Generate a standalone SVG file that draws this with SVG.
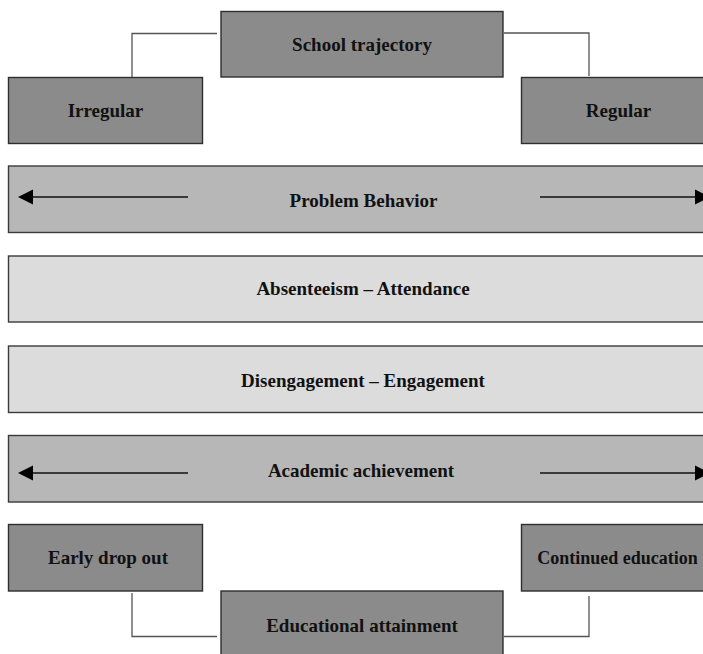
<svg xmlns="http://www.w3.org/2000/svg" width="703" height="654" viewBox="0 0 703 654">
<defs>
<style>
.dark{fill:#8b8b8b;stroke:#2e2e2e;stroke-width:1.4}
.mid{fill:#b7b7b7;stroke:#3a3a3a;stroke-width:1.4}
.light{fill:#dcdcdc;stroke:#3a3a3a;stroke-width:1.4}
.lbl{font-family:"Liberation Serif","Times New Roman",serif;font-weight:bold;font-size:19px;fill:#111;text-anchor:middle}
.conn{fill:none;stroke:#555;stroke-width:1.3}
.arr{stroke:#111;stroke-width:1.5;fill:none}
.head{fill:#000}
</style>
</defs>
<rect width="703" height="654" fill="#fff"/>
<g id="connectors">
<polyline class="conn" points="217,33.5 132,33.5 132,77"/>
<polyline class="conn" points="504,33 589,33 589,76"/>
<polyline class="conn" points="132,593 132,636.5 217,636.5"/>
<polyline class="conn" points="504,636.5 589,636.5 589,596"/>
</g>
<g id="school-trajectory">
<rect class="dark" x="221" y="11.5" width="282" height="65.5"/>
<text class="lbl" x="362" y="51">School trajectory</text>
</g>
<g id="irregular">
<rect class="dark" x="8.5" y="77.5" width="194" height="66"/>
<text class="lbl" x="105.5" y="117">Irregular</text>
</g>
<g id="regular">
<rect class="dark" x="521.5" y="77.5" width="195" height="66"/>
<text class="lbl" x="618.5" y="117">Regular</text>
</g>
<g id="problem-behavior">
<rect class="mid" x="8.5" y="166" width="710" height="66.5"/>
<line class="arr" x1="188" y1="197" x2="30" y2="197"/>
<polygon class="head" points="18,197 33,189.5 33,204.5"/>
<line class="arr" x1="540" y1="197" x2="698" y2="197"/>
<polygon class="head" points="710,197 695,189.5 695,204.5"/>
<text class="lbl" x="363.5" y="207">Problem Behavior</text>
</g>
<g id="absenteeism-attendance">
<rect class="light" x="8.5" y="256" width="710" height="66"/>
<text class="lbl" x="363" y="295">Absenteeism – Attendance</text>
</g>
<g id="disengagement-engagement">
<rect class="light" x="8.5" y="346" width="710" height="66.5"/>
<text class="lbl" x="363" y="386.5">Disengagement – Engagement</text>
</g>
<g id="academic-achievement">
<rect class="mid" x="8.5" y="435.5" width="710" height="66.5"/>
<line class="arr" x1="188" y1="473" x2="30" y2="473"/>
<polygon class="head" points="18,473 33,465.5 33,480.5"/>
<line class="arr" x1="540" y1="473" x2="698" y2="473"/>
<polygon class="head" points="710,473 695,465.5 695,480.5"/>
<text class="lbl" x="361" y="477">Academic achievement</text>
</g>
<g id="early-drop-out">
<rect class="dark" x="8.5" y="524.5" width="194" height="66.5"/>
<text class="lbl" x="108" y="564">Early drop out</text>
</g>
<g id="continued-education">
<rect class="dark" x="521.5" y="524.5" width="195" height="66.5"/>
<text class="lbl" x="617.5" y="564" style="font-size:18px">Continued education</text>
</g>
<g id="educational-attainment">
<rect class="dark" x="221" y="591" width="282" height="70"/>
<text class="lbl" x="362" y="632">Educational attainment</text>
</g>
</svg>
